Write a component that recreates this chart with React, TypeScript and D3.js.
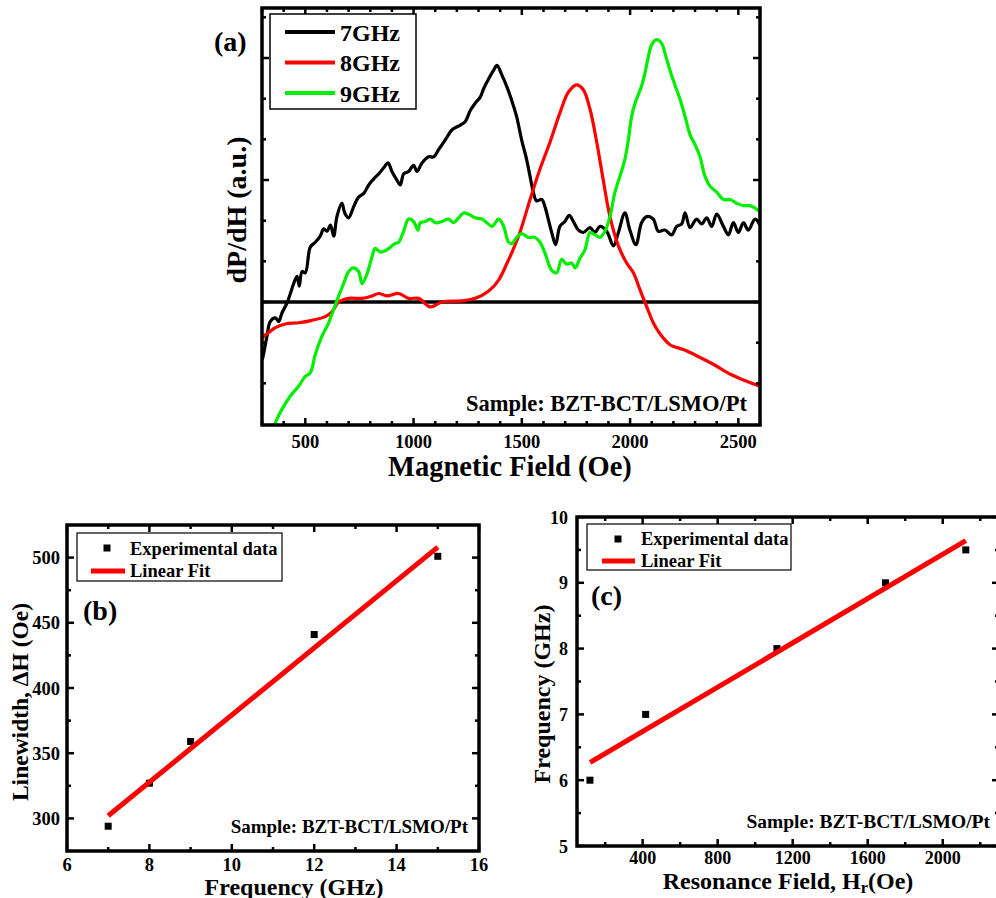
import React from "react";
import * as d3 from "d3";

// ---------- Panel (a) data: dP/dH (a.u.) vs magnetic field (Oe) ----------
const fieldA7: number[] = [302, 308, 323, 338, 362, 377, 392, 415, 431, 446, 462, 472, 485, 500, 523, 546, 569, 585, 600, 616, 631, 646, 669, 682, 700, 723, 746, 770, 793, 816, 839, 862, 882, 900, 923, 939, 954, 977, 1000, 1016, 1039, 1070, 1093, 1116, 1147, 1177, 1216, 1239, 1262, 1285, 1308, 1324, 1347, 1370, 1385, 1408, 1432, 1452, 1476, 1499, 1522, 1538, 1553, 1568, 1592, 1607, 1622, 1638, 1656, 1676, 1699, 1719, 1738, 1761, 1784, 1815, 1838, 1861, 1892, 1923, 1946, 1976, 1999, 2027, 2053, 2077, 2107, 2130, 2161, 2192, 2215, 2238, 2254, 2277, 2307, 2331, 2354, 2377, 2400, 2431, 2454, 2477, 2500, 2523, 2546, 2577, 2600];
const sig7GHz: number[] = [-0.47, -0.42, -0.28, -0.16, -0.13, -0.16, -0.09, -0.01, 0.07, 0.15, 0.21, 0.13, 0.25, 0.24, 0.45, 0.49, 0.54, 0.6, 0.58, 0.63, 0.54, 0.7, 0.81, 0.73, 0.69, 0.78, 0.86, 0.89, 0.96, 1.01, 1.05, 1.1, 1.14, 1.07, 1.0, 0.96, 1.05, 1.07, 1.12, 1.07, 1.14, 1.19, 1.19, 1.25, 1.33, 1.41, 1.45, 1.48, 1.57, 1.63, 1.68, 1.75, 1.83, 1.9, 1.94, 1.86, 1.76, 1.66, 1.52, 1.33, 1.17, 1.03, 0.9, 0.83, 0.84, 0.78, 0.68, 0.57, 0.47, 0.62, 0.66, 0.71, 0.66, 0.59, 0.57, 0.61, 0.57, 0.62, 0.58, 0.46, 0.57, 0.73, 0.59, 0.47, 0.65, 0.7, 0.68, 0.58, 0.59, 0.55, 0.62, 0.64, 0.73, 0.61, 0.68, 0.64, 0.69, 0.62, 0.72, 0.62, 0.55, 0.65, 0.57, 0.65, 0.59, 0.68, 0.63];

const fieldA8: number[] = [302, 308, 331, 362, 408, 469, 531, 592, 623, 654, 700, 762, 808, 839, 877, 931, 977, 1024, 1077, 1131, 1224, 1285, 1347, 1393, 1432, 1455, 1491, 1538, 1584, 1630, 1676, 1715, 1753, 1784, 1815, 1846, 1876, 1907, 1946, 1984, 2015, 2046, 2077, 2107, 2138, 2184, 2246, 2307, 2384, 2461, 2538, 2600];
const sig8GHz: number[] = [-0.3, -0.28, -0.25, -0.21, -0.18, -0.17, -0.15, -0.12, -0.08, 0.0, 0.03, 0.03, 0.05, 0.07, 0.05, 0.07, 0.03, 0.03, -0.04, 0.0, 0.01, 0.03, 0.09, 0.18, 0.32, 0.41, 0.57, 0.84, 1.09, 1.31, 1.55, 1.72, 1.78, 1.74, 1.58, 1.31, 1.0, 0.7, 0.46, 0.32, 0.24, 0.1, -0.04, -0.17, -0.26, -0.35, -0.39, -0.44, -0.51, -0.59, -0.65, -0.69];

const fieldA9: number[] = [348, 362, 392, 431, 469, 500, 523, 546, 577, 608, 631, 654, 677, 700, 723, 746, 762, 785, 808, 823, 846, 870, 893, 916, 931, 954, 977, 1000, 1020, 1031, 1054, 1077, 1101, 1131, 1162, 1185, 1208, 1231, 1254, 1285, 1316, 1339, 1362, 1393, 1416, 1439, 1455, 1476, 1499, 1530, 1561, 1584, 1607, 1638, 1661, 1684, 1707, 1730, 1746, 1769, 1792, 1815, 1838, 1861, 1884, 1907, 1930, 1953, 1976, 1992, 2007, 2023, 2038, 2053, 2069, 2084, 2100, 2123, 2146, 2161, 2184, 2207, 2231, 2254, 2277, 2300, 2323, 2346, 2369, 2400, 2431, 2461, 2492, 2523, 2554, 2600];
const sig9GHz: number[] = [-1.08, -0.99, -0.88, -0.77, -0.69, -0.61, -0.58, -0.43, -0.28, -0.17, -0.06, 0.05, 0.15, 0.25, 0.28, 0.25, 0.15, 0.23, 0.37, 0.44, 0.41, 0.42, 0.45, 0.48, 0.49, 0.58, 0.68, 0.66, 0.59, 0.65, 0.66, 0.68, 0.65, 0.66, 0.68, 0.65, 0.69, 0.73, 0.72, 0.69, 0.68, 0.65, 0.62, 0.68, 0.62, 0.49, 0.48, 0.53, 0.56, 0.53, 0.53, 0.49, 0.4, 0.26, 0.24, 0.35, 0.31, 0.32, 0.28, 0.36, 0.43, 0.57, 0.55, 0.53, 0.58, 0.7, 0.9, 1.03, 1.17, 1.33, 1.52, 1.63, 1.7, 1.77, 1.88, 2.01, 2.11, 2.15, 2.12, 2.04, 1.9, 1.78, 1.66, 1.52, 1.37, 1.29, 1.19, 1.03, 0.95, 0.9, 0.84, 0.84, 0.81, 0.79, 0.79, 0.74];

const seriesNamesA: string[] = ["7GHz", "8GHz", "9GHz"];
const seriesColorsA: string[] = ["#000000", "#ff0000", "#00ee00"];
const xTicksA: number[] = [500, 1000, 1500, 2000, 2500];

// ---------- Panel (b): linewidth vs frequency ----------
const freqB: number[] = [7, 8, 9, 12, 15];
const linewidthB: number[] = [294, 327, 359, 441, 501];
const fitB_x: number[] = [7, 15];
const fitB_y: number[] = [302, 508];
const xTicksB: number[] = [6, 8, 10, 12, 14, 16];
const yTicksB: number[] = [300, 350, 400, 450, 500];

// ---------- Panel (c): frequency vs resonance field ----------
const fieldC: number[] = [119, 416, 1116, 1695, 2123];
const freqC: number[] = [6.0, 7.0, 8.0, 9.0, 9.5];
const fitC_x: number[] = [120, 2123];
const fitC_y: number[] = [6.27, 9.64];
const xTicksC: number[] = [400, 800, 1200, 1600, 2000];
const yTicksC: number[] = [5, 6, 7, 8, 9, 10];

const FONT = "'Liberation Serif', 'Times New Roman', serif";

function range(a: number, b: number, step: number): number[] {
  const out: number[] = [];
  for (let v = a; v <= b + 1e-9; v += step) out.push(+v.toFixed(6));
  return out;
}

type Sc = d3.ScaleLinear<number, number>;

function Frame({ x, y, sw }: { x: Sc; y: Sc; sw: number }) {
  const [x0, x1] = x.range();
  const [y0, y1] = y.range();
  return (
    <rect x={Math.min(x0, x1)} y={Math.min(y0, y1)} width={Math.abs(x1 - x0)} height={Math.abs(y1 - y0)} fill="none" stroke="#000" strokeWidth={sw} />
  );
}

function Ticks({ x, y, xMajor, xMinor, yMajor, yMinor, major = 7, minor = 4 }: { x: Sc; y: Sc; xMajor: number[]; xMinor: number[]; yMajor: number[]; yMinor: number[]; major?: number; minor?: number }) {
  const [xl, xr] = x.range();
  const [yb, yt] = y.range();
  const els: React.ReactNode[] = [];
  const addX = (v: number, len: number, k: string) => {
    const px = x(v);
    els.push(<line key={"xb" + k} x1={px} x2={px} y1={yb} y2={yb - len} stroke="#000" strokeWidth={2.5} />);
    els.push(<line key={"xt" + k} x1={px} x2={px} y1={yt} y2={yt + len} stroke="#000" strokeWidth={2.5} />);
  };
  const addY = (v: number, len: number, k: string) => {
    const py = y(v);
    els.push(<line key={"yl" + k} x1={xl} x2={xl + len} y1={py} y2={py} stroke="#000" strokeWidth={2.5} />);
    els.push(<line key={"yr" + k} x1={xr} x2={xr - len} y1={py} y2={py} stroke="#000" strokeWidth={2.5} />);
  };
  xMajor.forEach((v, i) => addX(v, major, "M" + i));
  xMinor.forEach((v, i) => addX(v, minor, "m" + i));
  yMajor.forEach((v, i) => addY(v, major, "M" + i));
  yMinor.forEach((v, i) => addY(v, minor, "m" + i));
  return <g>{els}</g>;
}

export default function App() {
  // ----- Panel (a) -----
  const xA = d3.scaleLinear().domain([300, 2600]).range([262, 760]);
  const yA = d3.scaleLinear().domain([-1.008, 2.41]).range([425, 8]);
  const seriesA = [
    { xs: fieldA7, ys: sig7GHz },
    { xs: fieldA8, ys: sig8GHz },
    { xs: fieldA9, ys: sig9GHz },
  ];
  const lineA = d3
    .line<[number, number]>()
    .x((d) => xA(d[0]))
    .y((d) => yA(d[1]))
    .curve(d3.curveCatmullRom.alpha(0.5));

  const xMinorA = range(300, 2600, 100).filter((v) => !xTicksA.includes(v));
  const yMajorA = [0, 1, 2];
  const yMinorA = range(-1, 2.4, 1 / 3).filter((v) => Math.abs(v - Math.round(v)) > 0.01);

  // ----- Panel (b) -----
  const xB = d3.scaleLinear().domain([6, 16]).range([67, 479]);
  const yB = d3.scaleLinear().domain([275, 525]).range([851, 525]);
  const fitLineB = d3.line<number>().x((_, i) => xB(fitB_x[i])).y((d) => yB(d));

  // ----- Panel (c) -----
  const xC = d3.scaleLinear().domain([50, 2300]).range([577, 999]);
  const yC = d3.scaleLinear().domain([5, 10]).range([846, 517]);
  const fitLineC = d3.line<number>().x((_, i) => xC(fitC_x[i])).y((d) => yC(d));

  const sq = 7;

  return (
    <svg width={996} height={898} style={{ position: "absolute", left: 0, top: 0, background: "#fff" }} fontFamily={FONT} fontWeight="bold">
      <defs>
        <clipPath id="clipA">
          <rect x={262} y={8} width={498} height={417} />
        </clipPath>
      </defs>
      <rect x={0} y={0} width={996} height={898} fill="#fff" />

      {/* ================= Panel (a) ================= */}
      <g clipPath="url(#clipA)">
        <line x1={262} x2={760} y1={yA(0)} y2={yA(0)} stroke="#000" strokeWidth={3.5} />
        {seriesA.map((s, i) => (
          <path
            key={i}
            d={lineA(s.xs.map((v, j) => [v, s.ys[j]] as [number, number])) || ""}
            fill="none"
            stroke={seriesColorsA[i]}
            strokeWidth={3.2}
            strokeLinejoin="round"
          />
        ))}
      </g>
      <Ticks x={xA} y={yA} xMajor={xTicksA} xMinor={xMinorA} yMajor={yMajorA} yMinor={yMinorA} major={7} minor={4} />
      <Frame x={xA} y={yA} sw={3.5} />
      {xTicksA.map((t) => (
        <text key={t} x={xA(t)} y={447.5} textAnchor="middle" fontSize={18.5}>{t}</text>
      ))}
      <text x={510} y={476} textAnchor="middle" fontSize={28.5}>Magnetic Field (Oe)</text>
      <text transform="translate(246,210) rotate(-90)" textAnchor="middle" fontSize={28}>dP/dH (a.u.)</text>
      <text x={214} y={51} fontSize={28}>(a)</text>
      {/* legend (a) */}
      <rect x={270} y={14} width={146} height={95} fill="#fff" stroke="#000" strokeWidth={1.5} />
      {seriesNamesA.map((n, i) => (
        <g key={n}>
          <line x1={285} x2={335} y1={32 + i * 30.5} y2={32 + i * 30.5} stroke={seriesColorsA[i]} strokeWidth={4} />
          <text x={340} y={40.5 + i * 30.5} fontSize={24}>{n}</text>
        </g>
      ))}
      <text x={747} y={411} textAnchor="end" fontSize={22.5}>Sample: BZT-BCT/LSMO/Pt</text>

      {/* ================= Panel (b) ================= */}
      <Ticks x={xB} y={yB} xMajor={xTicksB} xMinor={[7, 9, 11, 13, 15]} yMajor={yTicksB} yMinor={[325, 375, 425, 475]} major={7} minor={4} />
      <Frame x={xB} y={yB} sw={3.5} />
      {freqB.map((f, i) => (
        <rect key={i} x={xB(f) - sq / 2} y={yB(linewidthB[i]) - sq / 2} width={sq} height={sq} fill="#000" />
      ))}
      <path d={fitLineB(fitB_y) || ""} stroke="#ff0000" strokeWidth={5} fill="none" />
      {xTicksB.map((t) => (
        <text key={t} x={xB(t)} y={871} textAnchor="middle" fontSize={18.5}>{t}</text>
      ))}
      {yTicksB.map((t) => (
        <text key={t} x={60} y={yB(t) + 6.5} textAnchor="end" fontSize={18.5}>{t}</text>
      ))}
      <text x={294} y={894.5} textAnchor="middle" fontSize={24}>Frequency (GHz)</text>
      <text transform="translate(28,702) rotate(-90)" textAnchor="middle" fontSize={23.5}>Linewidth, ΔH (Oe)</text>
      <text x={83} y={620} fontSize={28}>(b)</text>
      <rect x={77} y={533} width={205} height={48} fill="#fff" stroke="#000" strokeWidth={1.2} />
      <rect x={107 - sq / 2} y={548 - sq / 2} width={sq} height={sq} fill="#000" />
      <line x1={91} x2={125} y1={571} y2={571} stroke="#ff0000" strokeWidth={5} />
      <text x={130} y={554.5} fontSize={18.5}>Experimental data</text>
      <text x={130} y={577} fontSize={18.5}>Linear Fit</text>
      <text x={468} y={833} textAnchor="end" fontSize={19}>Sample: BZT-BCT/LSMO/Pt</text>

      {/* ================= Panel (c) ================= */}
      <Ticks x={xC} y={yC} xMajor={xTicksC} xMinor={[200, 600, 1000, 1400, 1800, 2200]} yMajor={yTicksC} yMinor={[5.5, 6.5, 7.5, 8.5, 9.5]} major={7} minor={4} />
      <Frame x={xC} y={yC} sw={3.5} />
      {fieldC.map((f, i) => (
        <rect key={i} x={xC(f) - sq / 2} y={yC(freqC[i]) - sq / 2} width={sq} height={sq} fill="#000" />
      ))}
      <path d={fitLineC(fitC_y) || ""} stroke="#ff0000" strokeWidth={5} fill="none" />
      {xTicksC.map((t) => (
        <text key={t} x={xC(t)} y={863.5} textAnchor="middle" fontSize={18}>{t}</text>
      ))}
      {yTicksC.map((t) => (
        <text key={t} x={568} y={yC(t) + 6.5} textAnchor="end" fontSize={18}>{t}</text>
      ))}
      <text x={788} y={889} textAnchor="middle" fontSize={24}>
        Resonance Field, H<tspan fontSize={16.5} dy={4}>r</tspan><tspan dy={-4}>(Oe)</tspan>
      </text>
      <text transform="translate(550,694) rotate(-90)" textAnchor="middle" fontSize={24}>Frequency (GHz)</text>
      <text x={591} y={605} fontSize={28}>(c)</text>
      <rect x={587} y={524} width={204} height={46} fill="#fff" stroke="#000" strokeWidth={1.2} />
      <rect x={618 - sq / 2} y={539 - sq / 2} width={sq} height={sq} fill="#000" />
      <line x1={602} x2={635} y1={561} y2={561} stroke="#ff0000" strokeWidth={5} />
      <text x={641} y={545} fontSize={18.5}>Experimental data</text>
      <text x={641} y={567} fontSize={18.5}>Linear Fit</text>
      <text x={990} y={828} textAnchor="end" fontSize={19.5}>Sample: BZT-BCT/LSMO/Pt</text>
    </svg>
  );
}
